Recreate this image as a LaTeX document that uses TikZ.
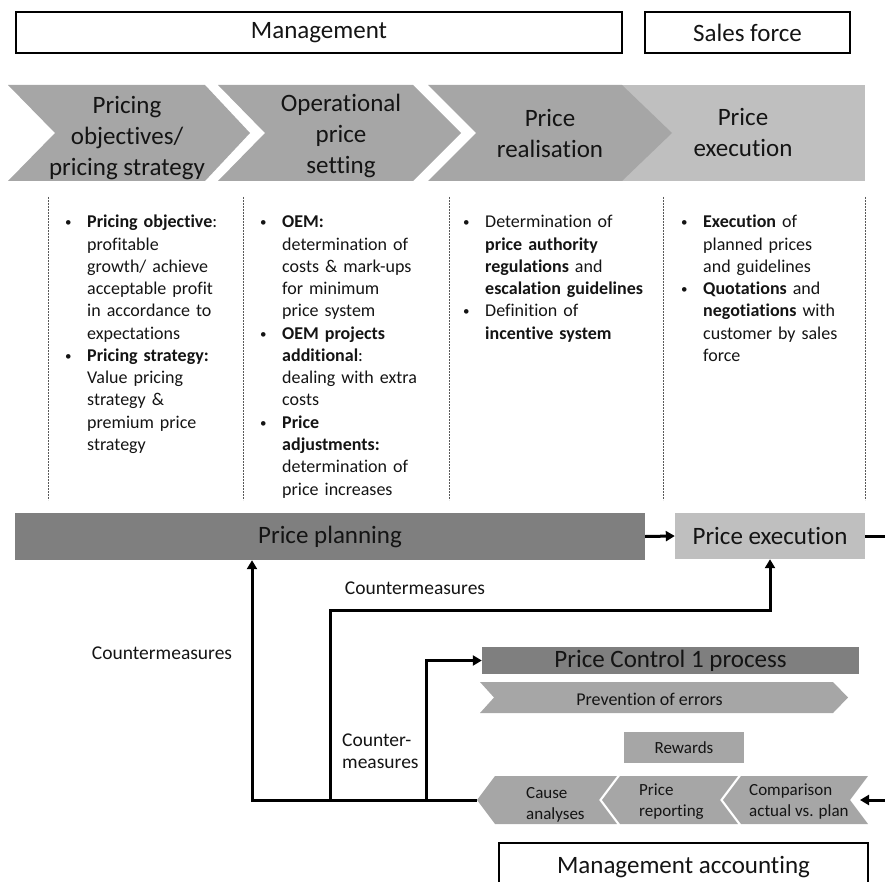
\documentclass[tikz,border=0pt]{standalone}
\usepackage{fontspec}
\setmainfont[Ligatures={NoCommon}]{Carlito}
\usetikzlibrary{arrows.meta}

\definecolor{phasegray}{HTML}{A6A6A6}
\definecolor{palegray}{HTML}{BFBFBF}
\definecolor{deepgray}{HTML}{7F7F7F}
\definecolor{ink}{HTML}{141414}

% bullet and hanging indent for the column texts
\newcommand\colbul{\makebox[22pt][l]{\raisebox{1.2pt}{\fontsize{13}{13}\selectfont •}}}
\newcommand\colind{\hspace*{22pt}}

\tikzset{
  rolebox/.style={draw=black, line width=2pt, fill=white, inner sep=0pt,
    text=ink, font=\fontsize{25}{30}\selectfont},
  phasetext/.style={align=center, inner sep=0pt, text=ink,
    font=\fontsize{25}{31}\selectfont},
  bodytext/.style={text width=220pt, align=left, inner sep=0pt, anchor=base west,
    text=ink, font=\fontsize{18}{22.25}\selectfont},
  bar/.style={inner sep=0pt, text=ink, font=\fontsize{25}{30}\selectfont},
  smalltext/.style={align=left, inner sep=0pt, text=ink,
    font=\fontsize{17}{21}\selectfont},
  cmlabel/.style={align=left, inner sep=0pt, text=ink,
    font=\fontsize{19.5}{22}\selectfont},
  colsep/.style={draw=black!65, line width=0.8pt, dash pattern=on 2pt off 1pt},
  feedback/.style={draw=black, line width=3pt},
  flow/.style={draw=black, line width=3pt, -{Triangle[length=9pt,width=10pt]}}
}

\begin{document}
\begin{tikzpicture}[x=1pt, y=-1pt]
\useasboundingbox (0,0) rectangle (885,882);

% ---- responsibilities
\node[rolebox, minimum width=606pt, minimum height=41pt] (mgmt) at (319,32.5) {Management};
\node[rolebox, minimum width=205pt, minimum height=41pt] (sales) at (747.5,32.5) {Sales force};

% ---- process phases (chevrons)
\fill[palegray] (622,85) rectangle (865,181);
\fill[phasegray] (8,85) -- (205,85) -- (250,133) -- (205,181) -- (8,181) -- (55,133) -- cycle;
\fill[phasegray] (218,85) -- (413,85) -- (461,133) -- (413,181) -- (218,181) -- (265,133) -- cycle;
\fill[phasegray] (428,85) -- (622,85) -- (672,133) -- (622,181) -- (428,181) -- (476,133) -- cycle;

\node[phasetext] (ph1) at (127,138) {Pricing\\objectives/\\pricing strategy};
\node[phasetext] (ph2) at (341,135.5) {Operational\\price\\setting};
\node[phasetext] (ph3) at (550,133) {Price\\realisation};
\node[phasetext] (ph4) at (743,132.5) {Price\\execution};

% ---- column separators
\foreach \cx in {48,243,449,663,865}
  \draw[colsep] (\cx,197) -- (\cx,500);

% ---- column contents
\node[bodytext] (col1) at (65,228) {%
\colbul\textbf{Pricing objective}:\\
\colind profitable\\
\colind growth/ achieve\\
\colind acceptable profit\\
\colind in accordance to\\
\colind expectations\\
\colbul\textbf{Pricing strategy:}\\
\colind Value pricing\\
\colind strategy \&\\
\colind premium price\\
\colind strategy};

\node[bodytext] (col2) at (260,228) {%
\colbul\textbf{OEM:}\\
\colind determination of\\
\colind costs \& mark-ups\\
\colind for minimum\\
\colind price system\\
\colbul\textbf{OEM projects}\\
\colind\textbf{additional}:\\
\colind dealing with extra\\
\colind costs\\
\colbul\textbf{Price}\\
\colind\textbf{adjustments:}\\
\colind determination of\\
\colind price increases};

\node[bodytext] (col3) at (463,228) {%
\colbul Determination of\\
\colind\textbf{price authority}\\
\colind\textbf{regulations} and\\
\colind\textbf{escalation guidelines}\\
\colbul Definition of\\
\colind\textbf{incentive system}};

\node[bodytext] (col4) at (681,228) {%
\colbul\textbf{Execution} of\\
\colind planned prices\\
\colind and guidelines\\
\colbul\textbf{Quotations} and\\
\colind\textbf{negotiations} with\\
\colind customer by sales\\
\colind force};

% ---- planning and execution bars
\node[bar, fill=deepgray, minimum width=630pt, minimum height=47pt] (plan) at (330,536.5) {Price planning};
\node[bar, fill=palegray, minimum width=190pt, minimum height=46pt] (exec) at (770,536) {Price execution};

% ---- price control block
\node[bar, fill=deepgray, minimum width=377pt, minimum height=27pt] (ctrl) at (670.5,660.5) {Price Control 1 process};

\fill[phasegray] (480,682) -- (833,682) -- (848,697.5) -- (833,713) -- (480,713) -- (494,697.5) -- cycle;
\node[inner sep=0pt, text=ink, font=\fontsize{18}{21}\selectfont] (prev) at (649.5,699) {Prevention of errors};

\node[smalltext, fill=phasegray, minimum width=120pt, minimum height=31pt, align=center] (reward) at (684,747.5) {Rewards};

\fill[phasegray] (477,800) -- (495,776) -- (617,776) -- (599,800) -- (617,824) -- (495,824) -- cycle;
\fill[phasegray] (602,800) -- (620,776) -- (738,776) -- (720,800) -- (738,824) -- (620,824) -- cycle;
\fill[phasegray] (723,800) -- (741,776) -- (868,776) -- (850,800) -- (868,824) -- (741,824) -- cycle;
\node[smalltext, anchor=west] (cause) at (526,804.5) {Cause\\analyses};
\node[smalltext, anchor=west] (report) at (639,801.5) {Price\\reporting};
\node[smalltext, anchor=west] (compare) at (749,801.5) {Comparison\\actual vs. plan};

% ---- management accounting (runs past the lower edge)
\node[rolebox, minimum width=369pt, minimum height=48pt] (macc) at (683.5,867) {Management accounting};

% ---- connectors
\coordinate (causetip) at (477,800);
\coordinate (fbone) at (252,0);
\coordinate (fbtwo) at (330,800);
\coordinate (fbtwoturn) at (330,610);
\coordinate (fbthree) at (426,800);
\coordinate (execout) at (885,536);
\coordinate (accin) at (885,800);
\coordinate (cmpnotch) at (860,800);

\draw[flow] (causetip) -| (plan.south -| fbone);
\draw[flow] (fbtwo) -- (fbtwoturn) -| (exec.south);
\draw[flow] (fbthree) |- (ctrl.west);
\draw[flow] (plan.east) -- (exec.west);
\draw[feedback] (exec.east) -- (execout);
\draw[flow] (accin) -- (cmpnotch);

% ---- countermeasure labels
\node[cmlabel] (cmleft) at (162,653) {Countermeasures};
\node[cmlabel] (cmtop) at (415,588) {Countermeasures};
\node[cmlabel, anchor=west] (cmmid) at (342,751) {Counter-\\measures};
\end{tikzpicture}
\end{document}
